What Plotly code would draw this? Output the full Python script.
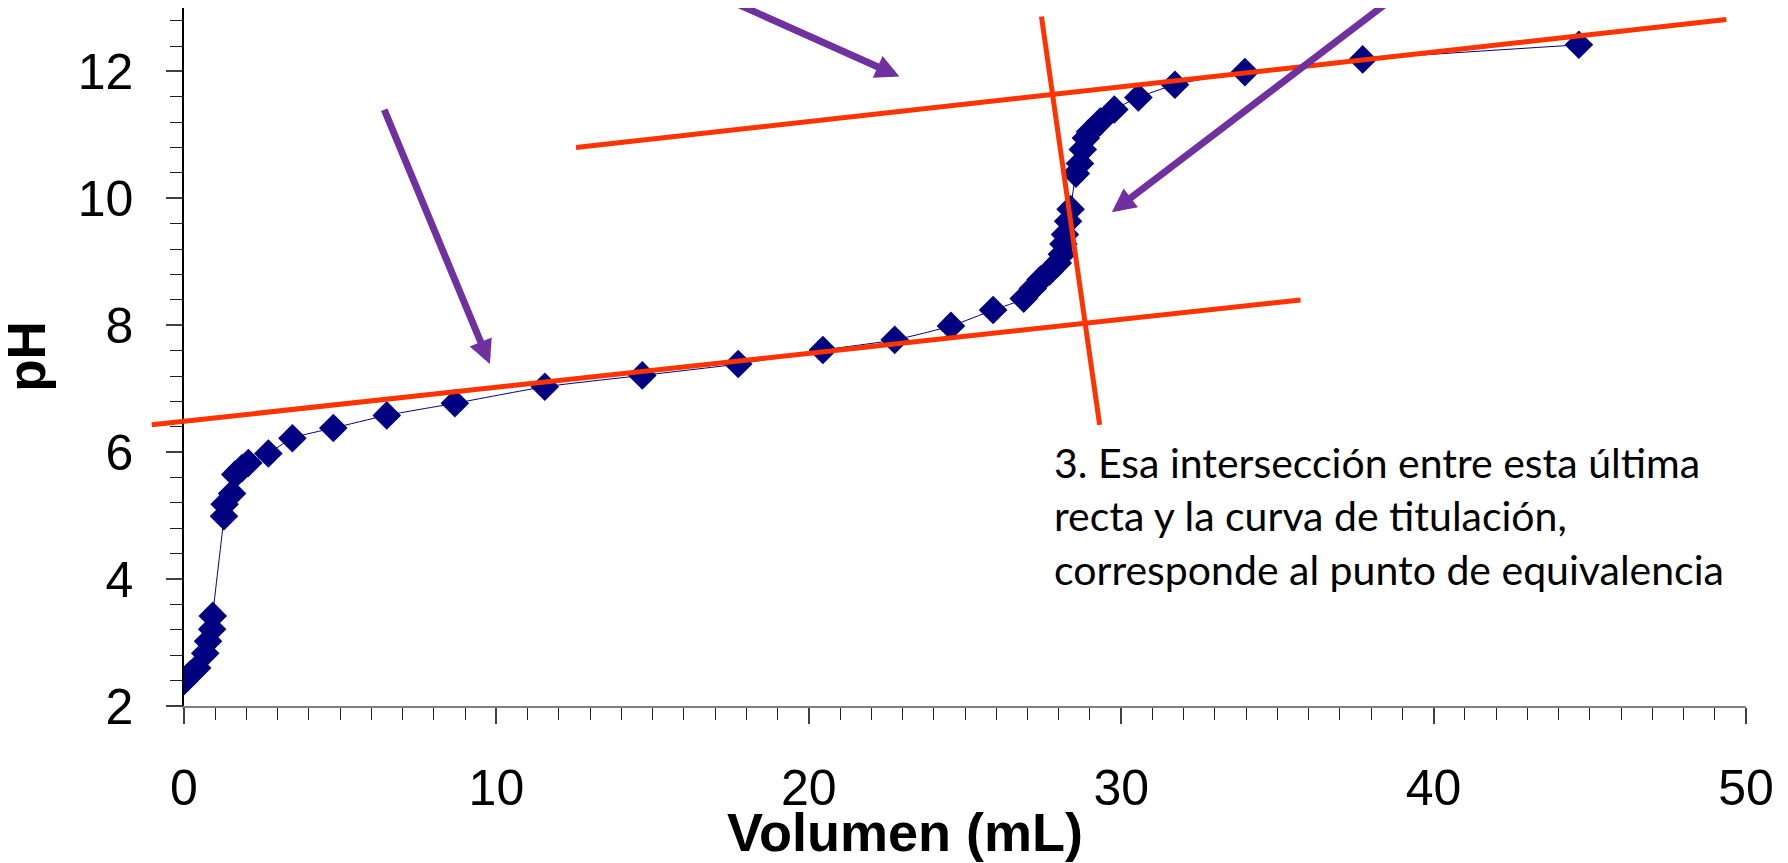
import plotly.graph_objects as go

# ---- data ----
volumen = [0.0, 0.2, 0.42, 0.68, 0.77, 0.9, 0.92,
           1.28, 1.3, 1.54, 1.64, 1.86, 2.06, 2.7, 3.47, 4.78, 6.49, 8.67,
           11.55, 14.67, 17.74, 20.45, 22.75, 24.55, 25.9, 26.88,
           27.17, 27.42, 27.71, 27.97, 28.1, 28.15, 28.2, 28.3, 28.38,
           28.55, 28.68, 28.77, 28.87, 29.0, 29.33, 29.78,
           30.55, 31.72, 33.96, 37.73, 44.65]
ph = [2.39, 2.5, 2.6, 2.83, 3.02, 3.21, 3.42,
      4.99, 5.18, 5.35, 5.65, 5.75, 5.83, 5.98, 6.22, 6.38, 6.58, 6.77,
      7.03, 7.21, 7.39, 7.61, 7.77, 7.99, 8.24, 8.42,
      8.58, 8.72, 8.85, 8.98, 9.12, 9.28, 9.43, 9.64, 9.83,
      10.39, 10.55, 10.77, 10.95, 11.05, 11.21, 11.40,
      11.59, 11.79, 11.99, 12.19, 12.42]

# tangent / construction lines (end points in data units)
tangente_inf_x = [-1.08, 35.74]
tangente_inf_y = [6.43, 8.40]
tangente_sup_x = [12.5, 49.37]
tangente_sup_y = [10.80, 12.82]
recta_media_x = [27.44, 29.31]
recta_media_y = [12.89, 6.43]

# purple arrows: tail (x, y) -> tip (x, y)
flecha_cola_x = [14.68, 6.39, 40.24]
flecha_cola_y = [13.73, 11.42, 13.73]
flecha_punta_x = [22.9, 9.79, 29.7]
flecha_punta_y = [11.92, 7.39, 9.78]

x_range = [0, 50]
y_range = [2, 13]
x_ticks = [0, 10, 20, 30, 40, 50]
y_ticks = [2, 4, 6, 8, 10, 12]

texto_nota = ("3. Esa intersección entre esta última<br>"
              "recta y la curva de titulación,<br>"
              "corresponde al punto de equivalencia")

NAVY = "#000080"
RED = "#FF3300"
PURPLE = "#7030A0"

fig = go.Figure()
fig.add_trace(go.Scatter(
    x=volumen, y=ph, mode="lines+markers",
    line=dict(color=NAVY, width=1, shape="spline", smoothing=0.6),
    marker=dict(symbol="diamond", size=22, color=NAVY),
    showlegend=False, hoverinfo="x+y"))

annotations = []
for lx, ly in [(tangente_inf_x, tangente_inf_y),
               (tangente_sup_x, tangente_sup_y),
               (recta_media_x, recta_media_y)]:
    annotations.append(dict(
        x=lx[1], y=ly[1], ax=lx[0], ay=ly[0], xref="x", yref="y",
        axref="x", ayref="y", text="", showarrow=True, arrowhead=0,
        arrowwidth=5, arrowcolor=RED, standoff=0))
for tx, ty, hx, hy in zip(flecha_cola_x, flecha_cola_y, flecha_punta_x, flecha_punta_y):
    annotations.append(dict(
        x=hx, y=hy, ax=tx, ay=ty, xref="x", yref="y",
        axref="x", ayref="y", text="", showarrow=True, arrowhead=2,
        arrowsize=0.68, arrowwidth=7, arrowcolor=PURPLE, standoff=0))

annotations.append(dict(
    x=0.5557, y=0.387, xref="paper", yref="paper", xanchor="left", yanchor="top",
    align="left", showarrow=False, text=texto_nota,
    font=dict(family="Lato", size=41, color="#000000")))
annotations.append(dict(
    x=0.4616, y=-0.1805, xref="paper", yref="paper", xanchor="center", yanchor="middle",
    showarrow=False, text="<b>Volumen (mL)</b>",
    font=dict(family="Liberation Sans", size=54, color="#000000")))
annotations.append(dict(
    x=-0.1008, y=0.501, xref="paper", yref="paper", xanchor="center", yanchor="middle",
    showarrow=False, text="<b>pH</b>", textangle=-90, borderpad=0,
    font=dict(family="Liberation Sans", size=53, color="#000000")))

tick_font = dict(family="Liberation Sans", size=50, color="#000000")

fig.update_layout(
    width=1788, height=863,
    margin=dict(l=176, r=50, t=0, b=165),
    paper_bgcolor="white", plot_bgcolor="white",
    showlegend=False,
    annotations=annotations,
    xaxis=dict(range=x_range, tickmode="array", tickvals=x_ticks,
               ticktext=[str(v) for v in x_ticks],
               ticks="outside", ticklen=16, tickwidth=1.5, tickcolor="#404040",
               minor=dict(dtick=1, tick0=0, ticks="outside", ticklen=12,
                          tickwidth=1.2, tickcolor="#202020"),
               showline=True, linecolor="#808080", linewidth=2,
               showgrid=False, zeroline=False, tickfont=tick_font,
               ticklabelstandoff=21),
    yaxis=dict(range=y_range, tickmode="array", tickvals=y_ticks,
               ticktext=[str(v) for v in y_ticks],
               ticks="outside", ticklen=16, tickwidth=1.5, tickcolor="#404040",
               minor=dict(dtick=0.4, tick0=2, ticks="outside", ticklen=12,
                          tickwidth=1.2, tickcolor="#202020"),
               showline=True, linecolor="#000000", linewidth=1.5,
               showgrid=False, zeroline=False, tickfont=tick_font,
               ticklabelstandoff=23),
    xaxis2=dict(range=x_range, overlaying="x", anchor="y", side="bottom",
                tickmode="array", tickvals=x_ticks, ticks="inside", ticklen=17,
                tickwidth=1.5, tickcolor="#404040", showticklabels=False,
                showline=False, showgrid=False, zeroline=False),
    yaxis2=dict(range=y_range, overlaying="y", anchor="x", side="left",
                tickmode="array", tickvals=y_ticks, ticks="inside", ticklen=17,
                tickwidth=1.5, tickcolor="#404040", showticklabels=False,
                showline=False, showgrid=False, zeroline=False),
)

fig.write_html("out.html")
